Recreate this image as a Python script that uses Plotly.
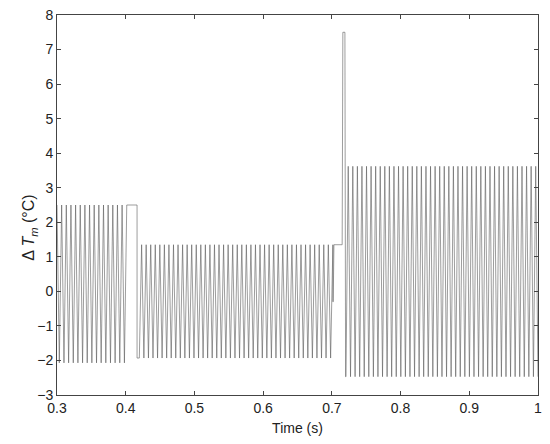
import plotly.graph_objects as go

# Oscillation segments
seg_start = [0.300, 0.4165, 0.7205]
seg_end = [0.4015, 0.7015, 1.000]
seg_high = [2.50, 1.35, 3.62]
seg_low = [-2.07, -1.93, -2.47]
seg_cycles = [15, 43, 42]

# Non-oscillating transitions (time, value)
gap1_t = [0.4015, 0.4165]
gap1_v = [2.50, 2.50]
gap2_t = [0.7015, 0.7020, 0.7030, 0.7150, 0.7160, 0.7190, 0.7200]
gap2_v = [-0.30, -0.30, 1.35, 1.35, 7.50, 7.50, -2.47]

x_ticks = [0.3, 0.4, 0.5, 0.6, 0.7, 0.8, 0.9, 1.0]
x_tick_text = ["0.3", "0.4", "0.5", "0.6", "0.7", "0.8", "0.9", "1"]
y_ticks = list(range(-3, 9))


def segment(i):
    t0, t1, n = seg_start[i], seg_end[i], seg_cycles[i]
    hi, lo = seg_high[i], seg_low[i]
    step = (t1 - t0) / (2 * n)
    xs, ys = [], []
    for k in range(2 * n + 1):
        xs.append(t0 + k * step)
        ys.append(hi if k % 2 == 0 else lo)
    return xs, ys

xs, ys = [], []
s1x, s1y = segment(0)
xs += s1x; ys += s1y
xs += gap1_t; ys += gap1_v
s2x, s2y = segment(1)
s2y[0] = seg_low[1]
xs += s2x; ys += s2y
xs += gap2_t; ys += gap2_v
s3x, s3y = segment(2)
s3y = [seg_low[2] if v == seg_high[2] else seg_high[2] for v in s3y]
xs += s3x; ys += s3y

fig = go.Figure()
fig.add_trace(go.Scatter(x=xs, y=ys, mode="lines",
                         line=dict(color="#5a5a5a", width=0.6),
                         hoverinfo="skip", showlegend=False))

axis_common = dict(showline=True, linecolor="#444", linewidth=1, mirror="ticks",
                   ticks="inside", ticklen=4, tickcolor="#444", showgrid=False,
                   zeroline=False, automargin=False, ticklabeloverflow="allow",
                   tickfont=dict(family="Liberation Sans, Arial", size=14, color="#222"))

fig.update_layout(
    width=534, height=428,
    margin=dict(l=49, r=4, t=7, b=41),
    paper_bgcolor="white", plot_bgcolor="white",
    font=dict(family="Liberation Sans, Arial", size=14, color="#222"),
    xaxis=dict(range=[0.3, 1.0], tickvals=x_ticks, ticktext=x_tick_text,
               title=dict(text="Time (s)", standoff=10, font=dict(size=14)), **axis_common),
    yaxis=dict(range=[-3, 8], tickvals=y_ticks, **axis_common),
    annotations=[dict(text="Δ <i>T</i><sub><i>m</i></sub> (°C)", textangle=-90,
                      xref="paper", yref="paper", x=0, y=0.44, xshift=-27,
                      xanchor="center", yanchor="middle", showarrow=False,
                      font=dict(size=16, color="#222"))],
)

fig.write_html("out.html")
